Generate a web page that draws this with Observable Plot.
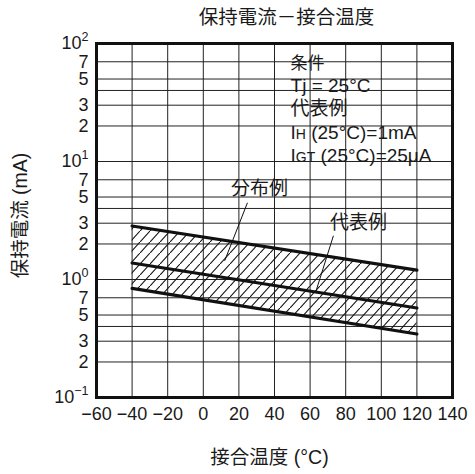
<!DOCTYPE html>
<html><head><meta charset="utf-8">
<script src="https://cdn.jsdelivr.net/npm/d3@7"></script>
<script src="https://cdn.jsdelivr.net/npm/@observablehq/plot@0.6"></script>
<style>
body{margin:0;background:#fff;}
#chart svg{display:block;background:#fff;}
</style></head><body><div id="chart"></div>
<script>
// ---- data ----
const temps = [-40, 120];            // junction temperature (°C)
const upperMax = [2.84, 1.20];       // distribution upper bound (mA)
const typical = [1.38, 0.573];       // typical curve (mA)
const lowerMin = [0.84, 0.345];      // distribution lower bound (mA)

const xTicks = [-60, -40, -20, 0, 20, 40, 60, 80, 100, 120, 140];
const yTickLabels = [0.1, 0.2, 0.3, 0.5, 0.7, 1, 2, 3, 5, 7, 10, 20, 30, 50, 70, 100];
const yGrid = [0.2, 0.3, 0.4, 0.5, 0.7, 1, 2, 3, 4, 5, 7, 10, 20, 30, 40, 50, 70];

const condLinesA = ["条件", "Tj = 25°C", "代表例"];
const condValuesA = [67.7, 44, 28.1];
const condLinesB = ["IH (25°C)=1mA", "IGT (25°C)=25μA"];
const condValuesB = [17.6, 11.2];
const condTemp = 49;

const calloutText = ["分布例", "代表例"];
const calloutTemp = [31.6, 87.2];
const calloutValue = [5.87, 3.02];
const leaderFromTemp = [24.8, 73.1];
const leaderFromValue = [4.47, 2.35];
const leaderToTemp = [12, 63];
const leaderToValue = [1.44, 0.77];

const titleText = "保持電流－接合温度";
const xLabel = "接合温度 (°C)";
const yLabel = "保持電流 (mA)";

// ---- build tables ----
const rows = temps.map((t, i) => ({t, hi: upperMax[i], mid: typical[i], lo: lowerMin[i]}));
const condA = condLinesA.map((s, i) => ({s, t: condTemp, v: condValuesA[i]}));
const condB = condLinesB.map((s, i) => ({s, t: condTemp, v: condValuesB[i]}));
const callouts = calloutText.map((s, i) => ({s, t: calloutTemp[i], v: calloutValue[i]}));
const leaders = leaderFromTemp.map((t, i) => ({x1: t, y1: leaderFromValue[i], x2: leaderToTemp[i], y2: leaderToValue[i]}));

const ink = "#1a1a1a";
const fmt = d => {
  const l = Math.log10(d), r = Math.round(l);
  if (Math.abs(l - r) < 1e-9) return "10|" + (r < 0 ? "−" + (-r) : String(r));
  return String(Math.round(d / Math.pow(10, Math.floor(l + 1e-9))));
};

const svg = Plot.plot({
  width: 475, height: 474,
  marginLeft: 96, marginRight: 23, marginTop: 43, marginBottom: 77,
  style: {fontFamily: '"Liberation Sans", "Noto Sans CJK JP", sans-serif', fontSize: "18px", color: ink, background: "#fff"},
  x: {domain: [-60, 140], ticks: xTicks, tickSize: 0, tickPadding: 10, label: null},
  y: {type: "log", domain: [0.1, 100], axis: null},
  marks: [
    Plot.gridX(xTicks, {stroke: "#222", strokeOpacity: 1, strokeWidth: 1}),
    Plot.gridY(yGrid, {stroke: "#222", strokeOpacity: 1, strokeWidth: 1}),
    Plot.areaY(rows, {x: "t", y1: "lo", y2: "hi", fill: "url(#hatch)"}),
    Plot.line(rows, {x: "t", y: "hi", stroke: "#111", strokeWidth: 3.2}),
    Plot.line(rows, {x: "t", y: "mid", stroke: "#111", strokeWidth: 3.2}),
    Plot.line(rows, {x: "t", y: "lo", stroke: "#111", strokeWidth: 3.2}),
    Plot.link(leaders, {x1: "x1", y1: "y1", x2: "x2", y2: "y2", stroke: "#111", strokeWidth: 1}),
    Plot.frame({stroke: "#111", strokeWidth: 3}),
    Plot.text(yTickLabels, {y: d => d, text: fmt, frameAnchor: "left", textAnchor: "end", dx: -8, lineAnchor: "middle", fontSize: 18, fill: ink}),
    Plot.text(condA, {x: "t", y: "v", text: "s", textAnchor: "start", lineAnchor: "middle", fontSize: 19, fill: ink, ariaLabel: "condA"}),
    Plot.text(condB, {x: "t", y: "v", text: "s", textAnchor: "start", lineAnchor: "middle", fontSize: 19, fill: ink, ariaLabel: "condB"}),
    Plot.text(callouts, {x: "t", y: "v", text: "s", textAnchor: "middle", lineAnchor: "middle", fontSize: 19, fill: ink, ariaLabel: "callout"}),
    Plot.text([titleText], {frameAnchor: "top", textAnchor: "middle", dy: -26, dx: 12, lineAnchor: "middle", fontSize: 19.5, fill: ink}),
    Plot.text([xLabel], {frameAnchor: "bottom", textAnchor: "middle", dy: 60, dx: -5, lineAnchor: "middle", fontSize: 19.5, fill: ink}),
    Plot.text([yLabel], {frameAnchor: "left", textAnchor: "middle", rotate: -90, dx: -76, dy: -5, lineAnchor: "middle", fontSize: 19.5, fill: ink})
  ]
});
document.getElementById("chart").append(svg);

const NS = "http://www.w3.org/2000/svg";
const defs = document.createElementNS(NS, "defs");
defs.innerHTML = '<pattern id="hatch" patternUnits="userSpaceOnUse" width="10" height="11"><path d="M-1,12.1L11,-1.1" stroke="#111" stroke-width="1.1" fill="none"/></pattern>';
svg.insertBefore(defs, svg.firstChild);

function tspan(txt, attrs) {
  const t = document.createElementNS(NS, "tspan");
  for (const k in attrs) t.setAttribute(k, attrs[k]);
  t.textContent = txt;
  return t;
}
svg.querySelectorAll("text").forEach(el => {
  const s = el.textContent;
  let m;
  if ((m = s.match(/^10\|(.+)$/))) {
    el.textContent = "10";
    el.append(tspan(m[1], {"font-size": 12.5, dy: "-8"}));
  } else if ((m = s.match(/^I(H|GT)(.*)$/))) {
    el.textContent = "I";
    el.append(tspan(m[1], {"font-size": 14}));
    el.append(tspan(m[2], {}));
  } else if (s === "条件") {
    el.setAttribute("font-size", 17);
  }
});

function backRects(label, padL, padR, h, uniform) {
  svg.querySelectorAll(`g[aria-label="${label}"]`).forEach(g => {
    const texts = [...g.querySelectorAll("text")];
    const boxes = texts.map(t => {
      const b = t.getBBox();
      const c = t.transform.baseVal.consolidate();
      const e = c ? c.matrix.e : 0, f = c ? c.matrix.f : 0;
      return {x: b.x + e, y: b.y + f, w: b.width, h: b.height};
    });
    const minX = Math.min(...boxes.map(b => b.x));
    const maxX = Math.max(...boxes.map(b => b.x + b.w));
    boxes.forEach(b => {
      const r = document.createElementNS(NS, "rect");
      const x0 = uniform ? minX : b.x, x1 = uniform ? maxX : b.x + b.w;
      const cy = b.y + b.h / 2;
      r.setAttribute("x", x0 - padL);
      r.setAttribute("width", x1 - x0 + padL + padR);
      r.setAttribute("y", cy - h / 2);
      r.setAttribute("height", h);
      r.setAttribute("fill", "#fff");
      g.insertBefore(r, g.firstChild);
    });
  });
}
backRects("condA", 3, 4, 18, true);
backRects("condB", 3, 12, 18, true);
backRects("callout", 7, 7, 22, false);
</script>
</body></html>
